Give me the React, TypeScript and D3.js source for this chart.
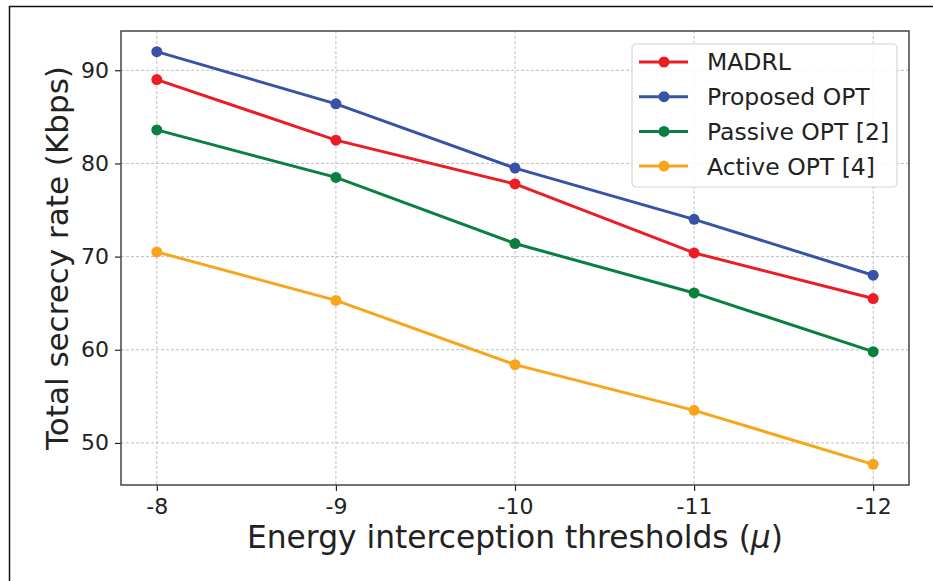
import { useEffect, useRef } from "react"
import * as d3 from "d3"

const thresholds = [-8, -9, -10, -11, -12]
const madrl = [89.0, 82.5, 77.8, 70.4, 65.5]
const proposedOpt = [92.0, 86.4, 79.5, 74.0, 68.0]
const passiveOpt = [83.6, 78.5, 71.4, 66.1, 59.8]
const activeOpt = [70.5, 65.3, 58.4, 53.5, 47.7]
const yTicks = [50, 60, 70, 80, 90]

const seriesList = [
  { name: "MADRL", values: madrl, color: "#ec1c24" },
  { name: "Proposed OPT", values: proposedOpt, color: "#3853a5" },
  { name: "Passive OPT [2]", values: passiveOpt, color: "#0a8040" },
  { name: "Active OPT [4]", values: activeOpt, color: "#f8a51c" },
]

const W = 933
const H = 581
const FONT = "DejaVu Sans, sans-serif"

const App = () => {
  const svgRef = useRef<SVGSVGElement>(null)

  useEffect(() => {
    const svg = d3.select(svgRef.current)
    svg.selectAll("*").remove()

    const margin = { top: 31, right: 24, bottom: 96, left: 121 }
    const width = W - margin.left - margin.right
    const height = H - margin.top - margin.bottom

    // outer figure frame (only left/top visible in the crop)
    svg.append("path")
      .attr("d", `M9.5,${H} L9.5,6.5 L${W},6.5`)
      .attr("fill", "none")
      .attr("stroke", "#111")
      .attr("stroke-width", 1.5)

    const g = svg.append("g").attr("transform", `translate(${margin.left},${margin.top})`)

    // matplotlib-style 5% padding
    const x = d3.scaleLinear().domain([-0.2, thresholds.length - 1 + 0.2]).range([0, width])
    const allVals = seriesList.flatMap((s) => s.values)
    const lo = d3.min(allVals)!
    const hi = d3.max(allVals)!
    const pad = (hi - lo) * 0.05
    const y = d3.scaleLinear().domain([lo - pad, hi + pad]).range([height, 0])

    // grid
    g.append("g")
      .selectAll("line")
      .data(thresholds)
      .join("line")
      .attr("x1", (_, i) => x(i))
      .attr("x2", (_, i) => x(i))
      .attr("y1", 0)
      .attr("y2", height)
      .attr("stroke", "#b0b0b0")
      .attr("stroke-width", 0.8)
      .attr("stroke-dasharray", "3,2")
    g.append("g")
      .selectAll("line")
      .data(yTicks)
      .join("line")
      .attr("x1", 0)
      .attr("x2", width)
      .attr("y1", (d) => y(d))
      .attr("y2", (d) => y(d))
      .attr("stroke", "#b0b0b0")
      .attr("stroke-width", 0.8)
      .attr("stroke-dasharray", "3,2")

    // axes
    const xAxis = g.append("g")
      .attr("transform", `translate(0,${height})`)
      .call(
        d3.axisBottom(x)
          .tickValues(thresholds.map((_, i) => i))
          .tickFormat((_, i) => String(thresholds[i]))
          .tickSize(6)
          .tickPadding(7)
      )
    const yAxis = g.append("g")
      .call(d3.axisLeft(y).tickValues(yTicks).tickSize(6).tickPadding(6))

    for (const ax of [xAxis, yAxis]) {
      ax.select(".domain").remove()
      ax.selectAll(".tick line").attr("stroke", "#222").attr("stroke-width", 1.2)
      ax.selectAll(".tick text")
        .style("font-family", FONT)
        .style("font-size", "22px")
        .attr("fill", "#222")
    }

    // spines
    g.append("rect")
      .attr("width", width)
      .attr("height", height)
      .attr("fill", "none")
      .attr("stroke", "#444")
      .attr("stroke-width", 1.5)

    const line = d3.line<number>()
      .x((_, i) => x(i))
      .y((d) => y(d))

    seriesList.forEach((s) => {
      g.append("path")
        .datum(s.values)
        .attr("fill", "none")
        .attr("stroke", s.color)
        .attr("stroke-width", 3)
        .attr("d", line)
      g.append("g")
        .selectAll("circle")
        .data(s.values)
        .join("circle")
        .attr("cx", (_, i) => x(i))
        .attr("cy", (d) => y(d))
        .attr("r", 5.5)
        .attr("fill", s.color)
    })

    // legend
    const lg = svg.append("g").attr("transform", "translate(632,44)")
    lg.append("rect")
      .attr("width", 265)
      .attr("height", 143)
      .attr("rx", 4)
      .attr("fill", "white")
      .attr("fill-opacity", 0.85)
      .attr("stroke", "#d6d6d6")
      .attr("stroke-width", 1.2)
    seriesList.forEach((s, i) => {
      const row = lg.append("g").attr("transform", `translate(0,${18 + i * 34.7})`)
      row.append("line")
        .attr("x1", 7).attr("x2", 56)
        .attr("stroke", s.color)
        .attr("stroke-width", 3)
      row.append("circle").attr("cx", 32).attr("r", 5.5).attr("fill", s.color)
      row.append("text")
        .attr("x", 75)
        .attr("dy", "0.36em")
        .style("font-family", FONT)
        .style("font-size", "23.5px")
        .attr("fill", "#222")
        .text(s.name)
    })

    // axis labels
    const xl = svg.append("text")
      .attr("x", margin.left + width / 2)
      .attr("y", 548)
      .attr("text-anchor", "middle")
      .style("font-family", FONT)
      .style("font-size", "31.3px")
      .attr("fill", "#222")
    xl.append("tspan").text("Energy interception thresholds (")
    xl.append("tspan").style("font-style", "italic").text("μ")
    xl.append("tspan").text(")")

    svg.append("text")
      .attr("transform", `translate(68,${margin.top + height / 2}) rotate(-90)`)
      .attr("text-anchor", "middle")
      .style("font-family", FONT)
      .style("font-size", "31px")
      .attr("fill", "#222")
      .text("Total secrecy rate (Kbps)")
  }, [])

  return (
    <svg
      ref={svgRef}
      width={W}
      height={H}
      style={{ position: "absolute", top: 0, left: 0, display: "block", background: "white" }}
    ></svg>
  )
}

export default App
